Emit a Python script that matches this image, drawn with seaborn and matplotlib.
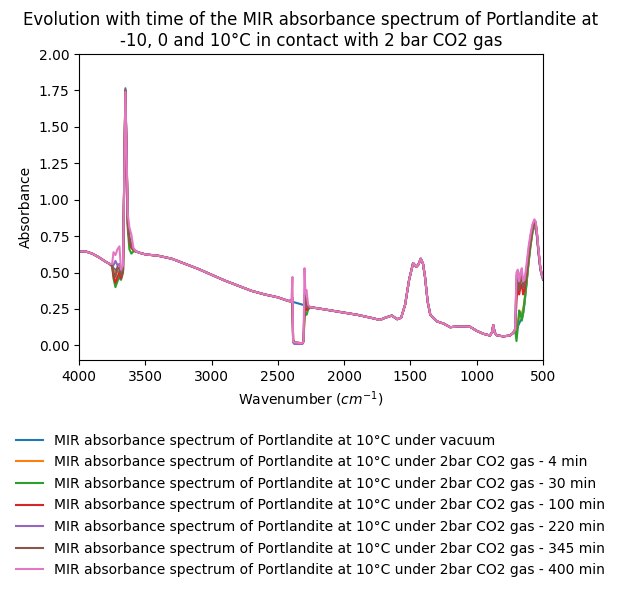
import matplotlib
matplotlib.use("Agg")
import matplotlib.pyplot as plt
import seaborn as sns
import pandas as pd

# ---------------- data ----------------
wavenumber = [4000, 3950, 3900, 3850, 3800, 3770,
              3750, 3740, 3725, 3710, 3695, 3683, 3668,
              3650, 3632, 3620, 3605, 3590,
              3570, 3540, 3500, 3400, 3300, 3200, 3100, 3000, 2900, 2800, 2700, 2600, 2500, 2420,
              2398, 2390, 2385, 2376, 2315, 2306, 2299, 2292, 2284, 2272, 2255,
              2200, 2100, 2000, 1900, 1800, 1730, 1690, 1640, 1600, 1570, 1540, 1510, 1480, 1455,
              1440, 1422, 1405, 1390, 1370, 1350, 1300, 1250, 1200, 1150, 1100, 1050, 1000, 950,
              900, 885, 875, 865, 850, 800, 750, 725, 710,
              700, 690, 680, 670, 660, 650, 640, 625, 610, 595, 580, 565, 555, 545, 535, 520, 510, 500]

shared_high = [0.645, 0.645, 0.63, 0.605, 0.575, 0.56]
shared_slope = [0.645, 0.635, 0.625, 0.615, 0.595, 0.56, 0.525, 0.485, 0.445, 0.41, 0.375, 0.35, 0.33, 0.305]
shared_mid = [0.255, 0.24, 0.225, 0.21, 0.19, 0.175, 0.19, 0.205, 0.18, 0.19, 0.28, 0.45, 0.565, 0.54,
              0.555, 0.595, 0.56, 0.47, 0.30, 0.21, 0.165, 0.15, 0.125, 0.13, 0.13, 0.128, 0.10, 0.08,
              0.068, 0.09, 0.14, 0.09, 0.07, 0.062, 0.068, 0.085, 0.11]

ohband_vacuum = [0.545, 0.53, 0.52, 0.51, 0.50, 0.49, 0.52, 1.765, 0.86, 0.72, 0.68, 0.655]
ohband_4 = [0.545, 0.52, 0.50, 0.50, 0.50, 0.48, 0.52, 1.755, 0.85, 0.71, 0.67, 0.655]
ohband_30 = [0.545, 0.46, 0.40, 0.44, 0.47, 0.45, 0.50, 1.75, 0.80, 0.66, 0.63, 0.645]
ohband_100 = [0.545, 0.48, 0.43, 0.47, 0.50, 0.46, 0.51, 1.75, 0.82, 0.72, 0.67, 0.655]
ohband_220 = [0.55, 0.55, 0.58, 0.55, 0.56, 0.50, 0.52, 1.75, 0.85, 0.74, 0.69, 0.66]
ohband_345 = [0.545, 0.50, 0.47, 0.54, 0.52, 0.48, 0.51, 1.75, 0.84, 0.74, 0.69, 0.66]
ohband_400 = [0.56, 0.64, 0.62, 0.66, 0.68, 0.52, 0.55, 1.74, 0.90, 0.81, 0.76, 0.67]

co2_vacuum = [0.302, 0.30, 0.298, 0.296, 0.28, 0.277, 0.275, 0.273, 0.271, 0.268, 0.262]
co2_4 = [0.30, 0.30, 0.03, 0.02, 0.015, 0.03, 0.22, 0.26, 0.27, 0.265, 0.262]
co2_30 = [0.30, 0.30, 0.04, 0.02, 0.015, 0.03, 0.20, 0.22, 0.21, 0.245, 0.262]
co2_100 = [0.30, 0.30, 0.04, 0.02, 0.015, 0.03, 0.25, 0.27, 0.24, 0.255, 0.262]
co2_220 = [0.31, 0.33, 0.02, 0.01, 0.01, 0.025, 0.35, 0.30, 0.27, 0.26, 0.262]
co2_345 = [0.31, 0.32, 0.03, 0.02, 0.015, 0.03, 0.30, 0.33, 0.28, 0.26, 0.262]
co2_400 = [0.30, 0.47, 0.03, 0.02, 0.015, 0.03, 0.53, 0.36, 0.38, 0.28, 0.262]

low_vacuum = [0.11, 0.13, 0.15, 0.17, 0.18, 0.22, 0.28, 0.42, 0.56, 0.68, 0.77, 0.82, 0.81, 0.74, 0.64, 0.52, 0.48, 0.45]
low_4 = [0.12, 0.16, 0.20, 0.22, 0.22, 0.25, 0.30, 0.43, 0.57, 0.69, 0.78, 0.83, 0.82, 0.75, 0.65, 0.53, 0.49, 0.46]
low_30 = [0.03, 0.12, 0.24, 0.22, 0.17, 0.22, 0.30, 0.42, 0.56, 0.68, 0.78, 0.84, 0.83, 0.75, 0.65, 0.53, 0.49, 0.46]
low_100 = [0.30, 0.45, 0.35, 0.40, 0.42, 0.35, 0.38, 0.48, 0.60, 0.71, 0.80, 0.85, 0.84, 0.76, 0.66, 0.53, 0.49, 0.46]
low_220 = [0.48, 0.50, 0.42, 0.48, 0.50, 0.42, 0.42, 0.52, 0.64, 0.74, 0.82, 0.86, 0.845, 0.76, 0.66, 0.53, 0.49, 0.46]
low_345 = [0.42, 0.45, 0.38, 0.45, 0.47, 0.40, 0.41, 0.50, 0.62, 0.73, 0.81, 0.85, 0.84, 0.76, 0.66, 0.53, 0.49, 0.46]
low_400 = [0.50, 0.52, 0.44, 0.50, 0.53, 0.44, 0.45, 0.55, 0.67, 0.76, 0.83, 0.865, 0.85, 0.77, 0.67, 0.54, 0.49, 0.46]

series_labels = [
    "MIR absorbance spectrum of Portlandite at 10°C under vacuum",
    "MIR absorbance spectrum of Portlandite at 10°C under 2bar CO2 gas - 4 min",
    "MIR absorbance spectrum of Portlandite at 10°C under 2bar CO2 gas - 30 min",
    "MIR absorbance spectrum of Portlandite at 10°C under 2bar CO2 gas - 100 min",
    "MIR absorbance spectrum of Portlandite at 10°C under 2bar CO2 gas - 220 min",
    "MIR absorbance spectrum of Portlandite at 10°C under 2bar CO2 gas - 345 min",
    "MIR absorbance spectrum of Portlandite at 10°C under 2bar CO2 gas - 400 min",
]
series_parts = [
    (ohband_vacuum, co2_vacuum, low_vacuum),
    (ohband_4, co2_4, low_4),
    (ohband_30, co2_30, low_30),
    (ohband_100, co2_100, low_100),
    (ohband_220, co2_220, low_220),
    (ohband_345, co2_345, low_345),
    (ohband_400, co2_400, low_400),
]

rows = []
for label, (oh, co2, low) in zip(series_labels, series_parts):
    values = shared_high + oh + shared_slope + co2 + shared_mid + low
    assert len(values) == len(wavenumber), (label, len(values), len(wavenumber))
    for w, a in zip(wavenumber, values):
        rows.append({"wavenumber": w, "absorbance": a, "series": label})
df = pd.DataFrame(rows)

# ---------------- plotting ----------------
fig = plt.figure(figsize=(6.21, 5.90), dpi=100)
ax = fig.add_axes([79 / 621, 1 - 360 / 590, (543 - 79) / 621, (360 - 54) / 590])

sns.lineplot(data=df, x="wavenumber", y="absorbance", hue="series",
             hue_order=series_labels, palette=sns.color_palette("tab10", 7),
             estimator=None, sort=False, linewidth=1.5, ax=ax)

ax.set_xlim(4000, 500)
ax.set_ylim(-0.1, 2.0)
ax.set_xlabel("Wavenumber ($cm^{-1}$)")
ax.set_ylabel("Absorbance")
ax.set_title("Evolution with time of the MIR absorbance spectrum of Portlandite at\n"
             "-10, 0 and 10°C in contact with 2 bar CO2 gas", fontsize=12)

leg = ax.get_legend()
handles = leg.legend_handles
labels = [t.get_text() for t in leg.get_texts()]
leg.remove()
fig.legend(handles, labels, loc="upper center", bbox_to_anchor=(0.5, (590 - 421) / 590),
           frameon=False, fontsize=10, labelspacing=0.55)

fig.savefig("out.png", dpi=100)
